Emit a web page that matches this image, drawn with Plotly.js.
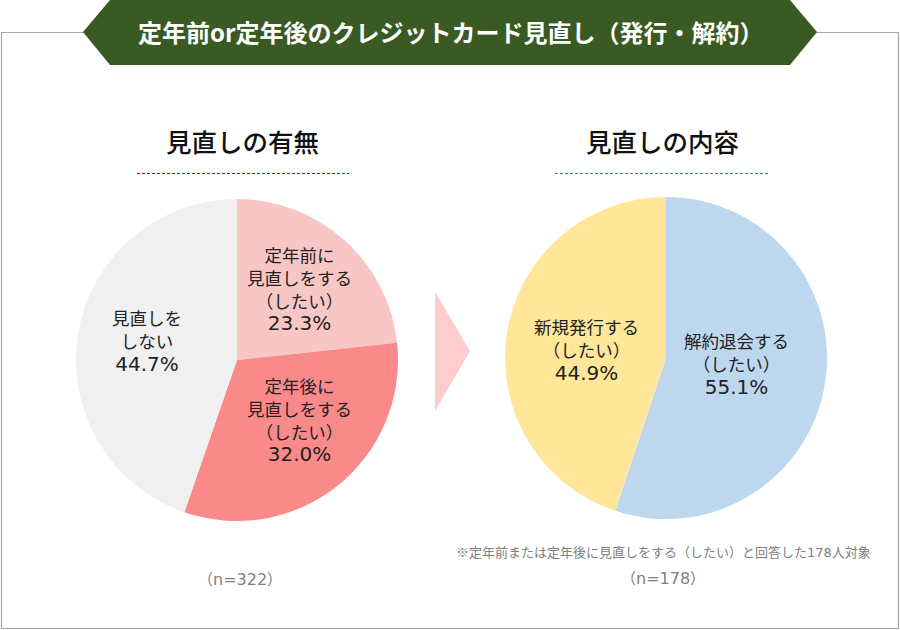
<!DOCTYPE html>
<html>
<head>
<meta charset="utf-8">
<script src="https://cdn.plot.ly/plotly-3.0.1.min.js"></script>
<style>html,body{margin:0;padding:0;background:#fff;}#chart{width:900px;height:630px;}</style>
</head>
<body>
<div id="chart"></div>
<script>
// ---- data ----
const chartTitle = "定年前or定年後のクレジットカード見直し（発行・解約）";
const leftTitle = "見直しの有無";
const rightTitle = "見直しの内容";
const leftLabels = ["定年前に<br>見直しをする<br>（したい）", "定年後に<br>見直しをする<br>（したい）", "見直しを<br>しない"];
const leftValues = [23.3, 32.0, 44.7];
const rightLabels = ["解約退会する<br>（したい）", "新規発行する<br>（したい）"];
const rightValues = [55.1, 44.9];
const leftN = 322;
const rightN = 178;
const footnotePre = "※定年前または定年後に見直しをする（したい）と回答した";
const footnotePost = "人対象";

// ---- styles ----
const W = 900, H = 630;
const px = x => x / W;
const py = y => 1 - y / H;
const leftColors = ["#f9c6c6", "#fa8a8a", "#f0f0f0"];
const rightColors = ["#bdd7ee", "#ffe699"];
const FONT = "'Noto Sans CJK JP', 'Noto Sans', sans-serif";
const NUMFONT = "'DejaVu Sans', 'Noto Sans', sans-serif";
const num = (s, size) => '<span style="font-family:' + NUMFONT.replace(/'/g, "") + ';font-size:' + size + 'px">' + s + '</span>';

function pieDomain(cx, cy, r) {
  return { x: [px(cx - r), px(cx + r)], y: [py(cy + r), py(cy - r)] };
}

const traces = [
  {
    type: "pie", values: leftValues, labels: leftLabels, sort: false,
    direction: "clockwise", rotation: 0, textinfo: "none", hoverinfo: "none",
    marker: { colors: leftColors, line: { width: 0 } },
    domain: pieDomain(237, 360, 161), showlegend: false
  },
  {
    type: "pie", values: rightValues, labels: rightLabels, sort: false,
    direction: "clockwise", rotation: 0, textinfo: "none", hoverinfo: "none",
    marker: { colors: rightColors, line: { width: 0 } },
    domain: pieDomain(666, 358, 161), showlegend: false
  }
];

const labelPos = {
  left: [[299, 289], [299, 419], [147, 340]],
  right: [[736, 364], [586, 349]]
};

const annotations = [];
function addLabel(text, value, pos) {
  annotations.push({
    xref: "paper", yref: "paper", x: px(pos[0]), y: py(pos[1]),
    xanchor: "center", yanchor: "middle", showarrow: false,
    text: text + "<br>" + num(value.toFixed(1) + "%", 20),
    font: { family: FONT, size: 17.5, color: "#222" }
  });
}
leftLabels.forEach((t, i) => addLabel(t, leftValues[i], labelPos.left[i]));
rightLabels.forEach((t, i) => addLabel(t, rightValues[i], labelPos.right[i]));

annotations.push(
  { xref: "paper", yref: "paper", x: px(451), y: py(31), xanchor: "center", yanchor: "middle", showarrow: false,
    text: "<b>" + chartTitle + "</b>", font: { family: FONT, size: 24, color: "#ffffff" } },
  { xref: "paper", yref: "paper", x: px(242), y: py(140), xanchor: "center", yanchor: "middle", showarrow: false,
    text: leftTitle, font: { family: FONT, size: 25.5, color: "#111", weight: 500 } },
  { xref: "paper", yref: "paper", x: px(662), y: py(140), xanchor: "center", yanchor: "middle", showarrow: false,
    text: rightTitle, font: { family: FONT, size: 25.5, color: "#111", weight: 500 } },
  { xref: "paper", yref: "paper", x: px(240), y: py(578), xanchor: "center", yanchor: "middle", showarrow: false,
    text: "（" + num("n=" + leftN, 16) + "）", font: { family: FONT, size: 15, color: "#808080" } },
  { xref: "paper", yref: "paper", x: px(663), y: py(577), xanchor: "center", yanchor: "middle", showarrow: false,
    text: "（" + num("n=" + rightN, 16) + "）", font: { family: FONT, size: 15, color: "#808080" } },
  { xref: "paper", yref: "paper", x: px(663), y: py(551), xanchor: "center", yanchor: "middle", showarrow: false,
    text: footnotePre + num(String(rightN), 13) + footnotePost, font: { family: FONT, size: 13, color: "#808080" } }
);

function pathOf(pts) {
  return "M" + pts.map(p => px(p[0]) + "," + py(p[1])).join(" L") + " Z";
}

const shapes = [
  { type: "rect", xref: "paper", yref: "paper", x0: px(1.5), x1: px(898.5), y0: py(628.5), y1: py(32.5),
    line: { color: "#a6a6a6", width: 1.2 }, fillcolor: "rgba(0,0,0,0)", layer: "below" },
  { type: "path", xref: "paper", yref: "paper",
    path: pathOf([[83, 32], [110, 0], [790, 0], [817, 32], [790, 65], [110, 65]]),
    fillcolor: "#3a5a24", line: { width: 0 } },
  { type: "line", xref: "paper", yref: "paper", x0: px(137), x1: px(349), y0: py(173.5), y1: py(173.5),
    line: { color: "#c00000", width: 1, dash: "3px,2px" } },
  { type: "line", xref: "paper", yref: "paper", x0: px(555), x1: px(768), y0: py(173.5), y1: py(173.5),
    line: { color: "#4472c4", width: 1, dash: "3px,2px" } },
  { type: "path", xref: "paper", yref: "paper",
    path: pathOf([[435, 292], [470, 351], [435, 411]]),
    fillcolor: "#ffcccc", line: { width: 0 } }
];

const layout = {
  width: W, height: H,
  margin: { l: 0, r: 0, t: 0, b: 0 },
  paper_bgcolor: "#ffffff", plot_bgcolor: "#ffffff",
  showlegend: false,
  annotations: annotations,
  shapes: shapes,
  font: { family: FONT }
};

Plotly.newPlot("chart", traces, layout, { staticPlot: true, displayModeBar: false });
</script>
</body>
</html>
